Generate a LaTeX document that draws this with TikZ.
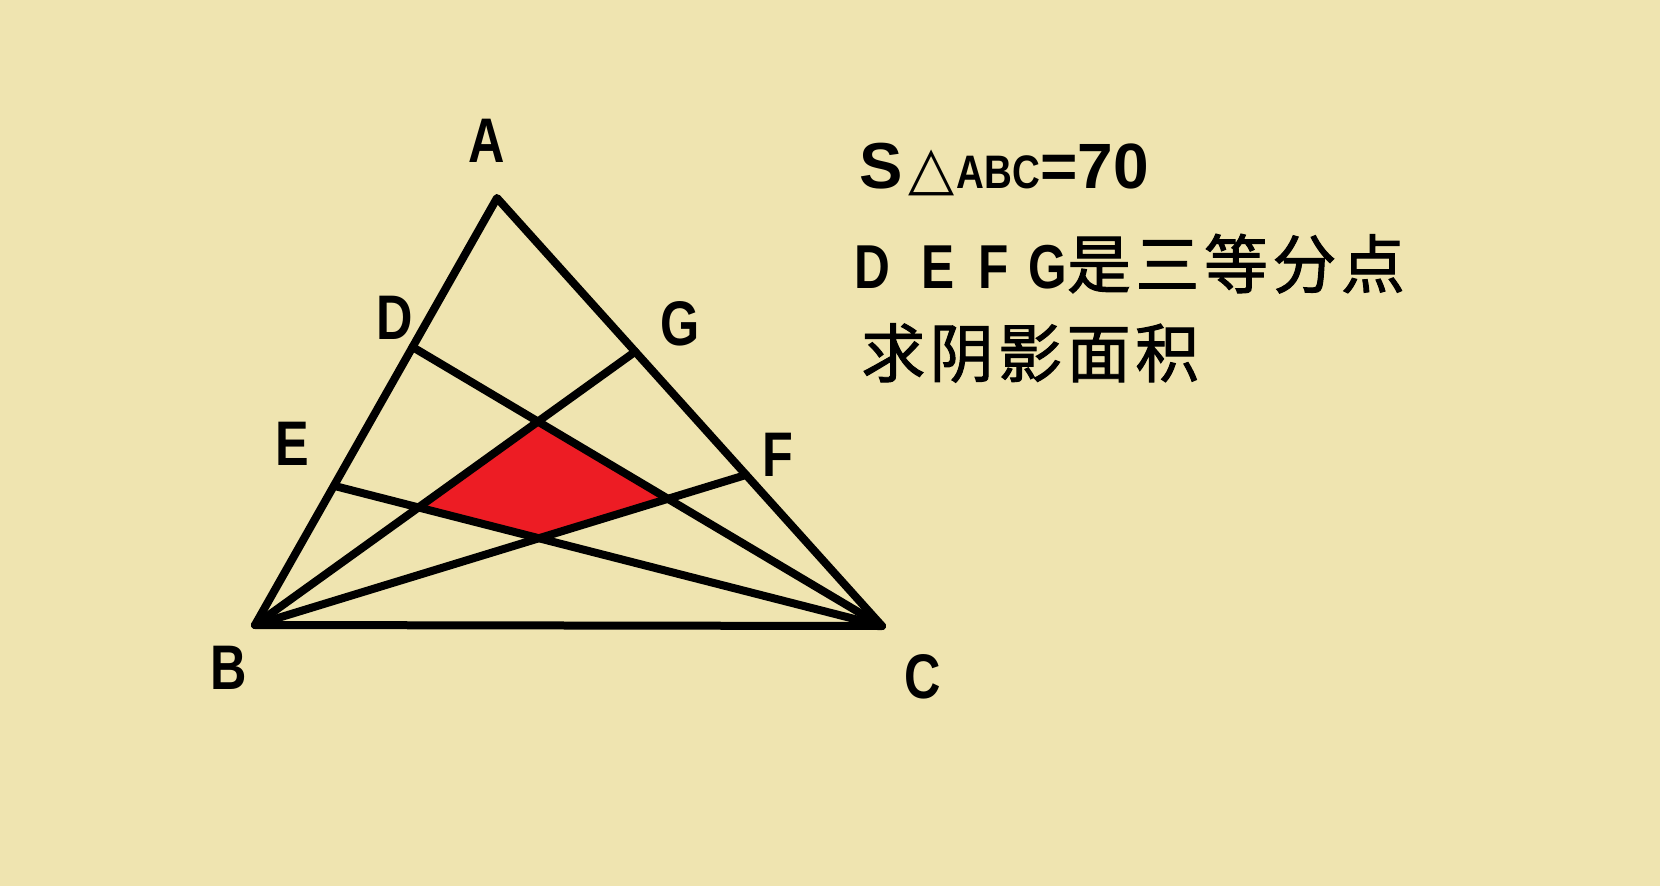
\documentclass[tikz,border=0pt]{standalone}
\usepackage{graphicx}
\usepackage{fontspec}
\setmainfont{Liberation Sans}
\newfontfamily\cjkfont[LetterSpace=7,FakeBold=1.5]{Noto Sans CJK SC}
\newfontfamily\symfont{DejaVu Sans}
\usetikzlibrary{calc}
\definecolor{bgyellow}{HTML}{EFE4B0}
\definecolor{shadered}{HTML}{ED1C24}
\newcommand{\narrow}[1]{\scalebox{0.8}[1]{#1}}
\tikzset{
  seg/.style={line width=8pt, line cap=round, line join=round, black},
  lbl/.style={inner sep=0pt, font=\bfseries\fontsize{63}{63}\selectfont},
  txt/.style={inner sep=0pt, anchor=base west},
}
\begin{document}
\begin{tikzpicture}[x=1pt,y=-1pt]
  \fill[bgyellow] (0,0) rectangle (1660,886);
  \useasboundingbox (0,0) rectangle (1660,886);

  % points
  \coordinate (A) at (497,198);
  \coordinate (B) at (255,625);
  \coordinate (C) at (882,626);
  \coordinate (D) at ($(A)!0.349!(B)$);
  \coordinate (E) at ($(A)!0.674!(B)$);
  \coordinate (G) at ($(A)!0.359!(C)$);
  \coordinate (F) at ($(A)!0.647!(C)$);

  \coordinate (P1) at (intersection of B--G and D--C);
  \coordinate (P2) at (intersection of D--C and B--F);
  \coordinate (P3) at (intersection of B--F and E--C);
  \coordinate (P4) at (intersection of E--C and B--G);

  % shaded region
  \fill[shadered] (P1) -- (P2) -- (P3) -- (P4) -- cycle;

  % lines
  \draw[seg] (A) -- (B) -- (C) -- cycle;
  \draw[seg] (D) -- (C);
  \draw[seg] (E) -- (C);
  \draw[seg] (B) -- (G);
  \draw[seg] (B) -- (F);

  % labels
  \node[lbl] (lA) at (487,141) {\narrow{A}};
  \node[lbl] (lD) at (395,318) {\narrow{D}};
  \node[lbl] (lE) at (292,444) {\narrow{E}};
  \node[lbl] (lG) at (680,324) {\narrow{G}};
  \node[lbl] (lF) at (778,455) {\narrow{F}};
  \node[lbl] (lB) at (229,668) {\narrow{B}};
  \node[lbl] (lC) at (923,677) {\narrow{C}};

  % text
  \node[txt] (t1) at (859,188) {{\bfseries\fontsize{65}{65}\selectfont S}\hspace{6pt}{\symfont\fontsize{60}{60}\selectfont △}\hspace{2pt}\scalebox{0.82}[1]{\bfseries\fontsize{47}{47}\selectfont ABC}{\bfseries\fontsize{64}{64}\selectfont =70}};
  \node[txt] (t2) at (854,288) {\bfseries\fontsize{62}{62}\selectfont\narrow{D}\hspace{31pt}\narrow{E}\hspace{24pt}\narrow{F}\hspace{20pt}\narrow{G}{\cjkfont\mdseries\fontsize{64}{64}\selectfont 是三等分点}};
  \node[txt] (t3) at (861,377) {\cjkfont\fontsize{64}{64}\selectfont 求阴影面积};
\end{tikzpicture}
\end{document}
